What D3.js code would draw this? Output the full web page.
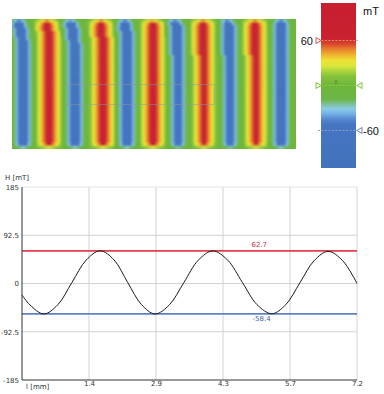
<!DOCTYPE html>
<html>
<head>
<meta charset="utf-8">
<script src="https://cdn.jsdelivr.net/npm/d3@7"></script>
<style>
body { margin: 0; background: #fff; }
svg { display: block; }
</style>
</head>
<body>
<script>
// heatmap grid, stripes given in grid column units
var nCols = 142, nRows = 43
var stripeCol = [5.6, 18.5, 31.5, 45.2, 57.7, 70.5, 83, 96, 109, 122, 134.5]
var stripeSign = [-1, 1, -1, 1, -1, 1, -1, 1, -1, 1, -1]
var stripeBend = [1, 0.4, 1, 0.3, 0.6, 0.2, 0.6, 0.2, 0.5, 0.1, 0]
var profRed = [86, 72, 56, 46, 37, 27, 14, 5, 0]
var profBlue = [-84, -74, -57, -38, -22, -9, -2, 0, 0]
var rowShift = [-2.5, -2, -1.6, -1.3, -1, -0.8, -0.6, -0.5, -0.4, -0.3, -0.2, -0.1]
var rowFadeTop = [0.55, 0.9]
var rowFadeBottom = [0.85, 0.35]

// colour bar (mT)
var cbValues = [110, 62, 55, 48, 40, 33, 26, 19, 12, 0, -18, -25, -31, -38, -45, -52, -110]
var cbColors = ["#c81e30", "#c92230", "#da4a2c", "#e8842e", "#f0b830", "#eee436", "#d8e63a", "#aad43e",
	"#84c23c", "#6eb63c", "#6cb646", "#7ec09a", "#8acbe6", "#72b0e6", "#5588d0", "#4676c2", "#4272bc"]
var cbMarks = [60, 0, -60]

// H profile along l
var lx = [0, 0.17, 0.47, 0.77, 1.075, 1.38, 1.68, 1.98, 2.27, 2.57, 2.86, 3.17, 3.48, 3.79, 4.10,
	4.42, 4.735, 5.05, 5.37, 5.67, 5.975, 6.28, 6.58, 6.89, 7.2]
var lh = [-22, -41, -58.4, -40.7, 2.2, 45.0, 62.7, 45.0, 2.2, -40.7, -58.4, -40.7, 2.0, 44.8, 62.5,
	44.9, 2.2, -40.4, -58.0, -40.5, 1.7, 43.9, 61.5, 44, 0]
var xTicks = [1.44, 2.88, 4.32, 5.76, 7.2]
var xTickLabels = ["1.4", "2.9", "4.3", "5.7", "7.2"]
var yTicks = [185, 92.5, 0, -92.5, -185]
var refMax = 62.7, refMin = -58.4

var W = 384, H = 394
var svg = d3.select("body").append("svg").attr("width", W).attr("height", H)
var color = d3.scaleLinear().domain(cbValues).range(cbColors).clamp(true)

// ---- heatmap
var hx = d3.scaleBand().domain(d3.range(nCols)).range([12, 296])
var hy = d3.scaleBand().domain(d3.range(nRows)).range([19, 149])

var cells = []
for (var r = 0; r < nRows; r++) {
	var fade = 1
	if (r < rowFadeTop.length) fade = rowFadeTop[r]
	if (r >= nRows - rowFadeBottom.length) fade = rowFadeBottom[r - (nRows - rowFadeBottom.length)]
	for (var c = 0; c < nCols; c++) {
		var best = 1e9, bi = 0
		stripeCol.forEach(function(s, i) {
			var ctr = s + (rowShift[r] || 0) * stripeBend[i]
			var d = Math.abs(c + 0.5 - ctr)
			if (d < best) { best = d; bi = i }
		})
		var prof = stripeSign[bi] > 0 ? profRed : profBlue
		var k = Math.round(best)
		var v = k < prof.length ? prof[k] : 0
		cells.push({ c: c, r: r, v: v * fade })
	}
}

var defs = svg.append("defs")
defs.append("clipPath").attr("id", "hclip").append("rect")
	.attr("x", 12).attr("y", 19).attr("width", 284).attr("height", 130)
defs.append("filter").attr("id", "soft").attr("x", "-5%").attr("y", "-5%").attr("width", "110%").attr("height", "110%")
	.append("feGaussianBlur").attr("stdDeviation", 1.3).attr("edgeMode", "duplicate")

var hg = svg.append("g").attr("clip-path", "url(#hclip)")
hg.append("rect").attr("x", 12).attr("y", 19).attr("width", 284).attr("height", 130).attr("fill", color(0))
hg.append("g").attr("filter", "url(#soft)")
	.selectAll("rect").data(cells).join("rect")
	.attr("x", d => hx(d.c))
	.attr("y", d => hy(d.r))
	.attr("width", hx.bandwidth() + 0.4)
	.attr("height", hy.bandwidth() + 0.4)
	.attr("fill", d => color(d.v))

// selection box
svg.append("rect").attr("x", 68.5).attr("y", 84.5).attr("width", 146).attr("height", 20)
	.attr("fill", "none").attr("stroke", "#8a98a4").attr("stroke-opacity", 0.6).attr("stroke-width", 0.8)

// ---- colour bar
var cbY = d3.scaleLinear().domain([-110, 110]).range([168, 3])
var grad = defs.append("linearGradient").attr("id", "cbgrad")
	.attr("gradientUnits", "userSpaceOnUse").attr("x1", 0).attr("x2", 0).attr("y1", cbY(110)).attr("y2", cbY(-110))
grad.selectAll("stop").data(cbValues).join("stop")
	.attr("offset", d => (cbY(d) - cbY(110)) / (cbY(-110) - cbY(110)))
	.attr("stop-color", (d, i) => cbColors[i])
svg.append("rect").attr("x", 321).attr("y", cbY(110)).attr("width", 35).attr("height", cbY(-110) - cbY(110))
	.attr("fill", "url(#cbgrad)")

var markCol = { "60": "#e8906a", "0": "#8ccc3c", "-60": "#8a9ccc" }
var triCol = { "60": "#e05050", "0": "#80c030", "-60": "#6a80d0" }
cbMarks.forEach(function(m) {
	var yy = cbY(m)
	svg.append("line").attr("x1", 318).attr("x2", 358).attr("y1", yy).attr("y2", yy)
		.attr("stroke", markCol[m]).attr("stroke-width", 1).attr("stroke-dasharray", "2,1.5")
	if (m >= 0) {
		svg.append("path").attr("d", "M316," + (yy - 3) + "L321," + yy + "L316," + (yy + 3) + "Z")
			.attr("fill", "#fff").attr("stroke", triCol[m]).attr("stroke-width", 1)
	}
	if (m <= 0) {
		svg.append("path").attr("d", "M362," + (yy - 3) + "L357," + yy + "L362," + (yy + 3) + "Z")
			.attr("fill", "#fff").attr("stroke", triCol[m]).attr("stroke-width", 1)
	}
})
svg.append("text").attr("x", 313).attr("y", cbY(60) + 4).attr("text-anchor", "end")
	.style("font", "11px 'Liberation Sans', Arial, sans-serif").attr("fill", "#111").text("60")
svg.append("text").attr("x", 363).attr("y", cbY(-60) + 4)
	.style("font", "11px 'Liberation Sans', Arial, sans-serif").attr("fill", "#111").text("-60")
svg.append("text").attr("x", 336).attr("y", cbY(0) - 1.5).attr("text-anchor", "middle")
	.style("font", "5px 'Liberation Sans', Arial, sans-serif").attr("fill", "#3f7a28").text("0")
svg.append("text").attr("x", 363).attr("y", 15)
	.style("font", "11px 'Liberation Sans', Arial, sans-serif").attr("fill", "#111").text("mT")

// ---- line chart
var x = d3.scaleLinear().domain([0, 7.2]).range([22, 357])
var y = d3.scaleLinear().domain([-185, 185]).range([380, 187])
var g = svg.append("g")

g.selectAll(".vg").data(xTicks).join("line").attr("class", "vg")
	.attr("x1", d => x(d)).attr("x2", d => x(d)).attr("y1", y(185)).attr("y2", y(-185))
	.attr("stroke", "#d2d2d2").attr("stroke-width", 1)
g.selectAll(".hg").data(yTicks.slice(0, 4)).join("line").attr("class", "hg")
	.attr("x1", x(0)).attr("x2", x(7.2)).attr("y1", d => y(d)).attr("y2", d => y(d))
	.attr("stroke", d => d == 185 ? "#e2e2e2" : "#d2d2d2").attr("stroke-width", 1)

// reference lines
g.append("line").attr("x1", x(0)).attr("x2", x(7.2)).attr("y1", y(refMax)).attr("y2", y(refMax))
	.attr("stroke", "#e0404c").attr("stroke-width", 1.8)
g.append("line").attr("x1", x(0)).attr("x2", x(7.2)).attr("y1", y(refMin)).attr("y2", y(refMin))
	.attr("stroke", "#6080c4").attr("stroke-width", 1.8)
g.append("text").attr("x", x(5.1)).attr("y", y(refMax) - 4).attr("text-anchor", "middle")
	.style("font", "7px 'DejaVu Sans', sans-serif").attr("fill", "#c83040").text(refMax)
g.append("text").attr("x", x(5.15)).attr("y", y(refMin) + 7).attr("text-anchor", "middle")
	.style("font", "7px 'DejaVu Sans', sans-serif").attr("fill", "#4060b0").text(refMin)

// curve
var line = d3.line().x((d, i) => x(lx[i])).y(d => y(d)).curve(d3.curveCatmullRom)
g.append("path").datum(lh).attr("d", line).attr("fill", "none")
	.attr("stroke", "#1a1a1a").attr("stroke-width", 1)

// axes
g.append("g").attr("transform", "translate(" + x(0) + ",0)")
	.call(d3.axisLeft(y).tickValues(yTicks).tickSize(0).tickPadding(3).tickFormat(d => String(d)))
	.call(a => a.select(".domain").remove())
	.selectAll("text").style("font", "7px 'DejaVu Sans', sans-serif").attr("fill", "#333")
g.append("g").attr("transform", "translate(0," + y(-185) + ")")
	.call(d3.axisBottom(x).tickValues(xTicks).tickSize(0).tickPadding(1).tickFormat((d, i) => xTickLabels[i]))
	.call(a => a.select(".domain").remove())
	.selectAll("text").style("font", "7px 'DejaVu Sans', sans-serif").attr("fill", "#333")
g.append("line").attr("x1", x(0)).attr("x2", x(0)).attr("y1", y(185)).attr("y2", y(-185))
	.attr("stroke", "#333").attr("stroke-width", 1)
g.append("line").attr("x1", x(0)).attr("x2", x(7.2)).attr("y1", y(-185)).attr("y2", y(-185))
	.attr("stroke", "#333").attr("stroke-width", 1)

g.append("text").attr("x", 26).attr("y", 389)
	.style("font", "7px 'DejaVu Sans', sans-serif").attr("fill", "#333").text("l [mm]")
g.append("text").attr("x", 5).attr("y", 180)
	.style("font", "7px 'DejaVu Sans', sans-serif").attr("fill", "#333").text("H [mT]")
</script>
</body>
</html>
